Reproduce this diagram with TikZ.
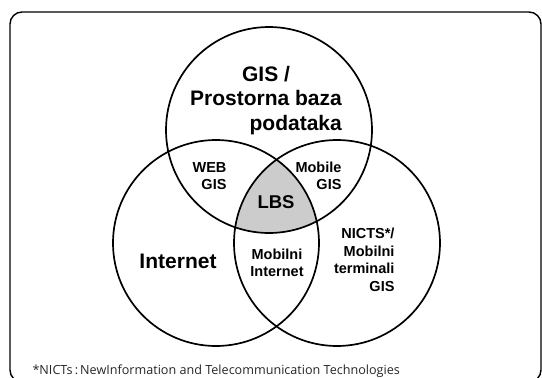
\documentclass[tikz,border=0pt]{standalone}
\usepackage{fontspec}
\setmainfont{Liberation Sans}
\newfontfamily\notefont{Open Sans}
\usetikzlibrary{positioning, calc}

\begin{document}
\begin{tikzpicture}[
    x=1pt, y=-1pt,
    every node/.style={align=center},
    venn/.style={circle, draw=black, line width=1.7pt, minimum size=206pt, inner sep=0pt},
    biglabel/.style={font=\fontsize{21}{24.5}\selectfont\bfseries},
    smalllabel/.style={font=\fontsize{14.5}{17.5}\selectfont\bfseries},
    core/.style={font=\fontsize{18.5}{20}\selectfont\bfseries},
    note/.style={font=\notefont\fontsize{12.6}{14}\selectfont, text=black!85}
]
\useasboundingbox (0,0) rectangle (542,378);

% Frame
\draw [line width=1.4pt, rounded corners=12pt] (10,12) rectangle (541,382);

% Centres
\coordinate (gisc) at (269,130);
\coordinate (netc) at (216,243);
\coordinate (mobc) at (337,243);

% Shared part of all three
\begin{scope}
  \clip (gisc) circle (103pt);
  \clip (netc) circle (103pt);
  \fill [black!20] (mobc) circle (103pt);
\end{scope}

% Circles
\node (gis) [venn] at (gisc) {};
\node (net) [venn] at (netc) {};
\node (mob) [venn] at (mobc) {};

% Labels
\node (gislabel) [biglabel] at (266,101) {\begin{tabular}{@{}r@{}}\multicolumn{1}{@{}c@{}}{GIS /}\\Prostorna baza\\podataka\end{tabular}};
\node (netlabel) [biglabel] at (178,261) {Internet};
\node (moblabel) [smalllabel, align=right, anchor=east] at (398,260) {NICTS*/\\Mobilni\\terminali\\GIS};
\node (webgis) [smalllabel, align=right, anchor=east] at (230,176) {WEB\\GIS};
\node (mobgis) [smalllabel, align=right, anchor=east] at (345,176) {Mobile\\GIS};
\node (mobnet) [smalllabel] at (277,263) {Mobilni\\Internet};
\node (lbs) [core] at (276,202) {LBS};

% Footnote
\node (footnote) [note, anchor=west] at (29,371) {*NICTs\,:\,NewInformation and Telecommunication Technologies};

\end{tikzpicture}
\end{document}
